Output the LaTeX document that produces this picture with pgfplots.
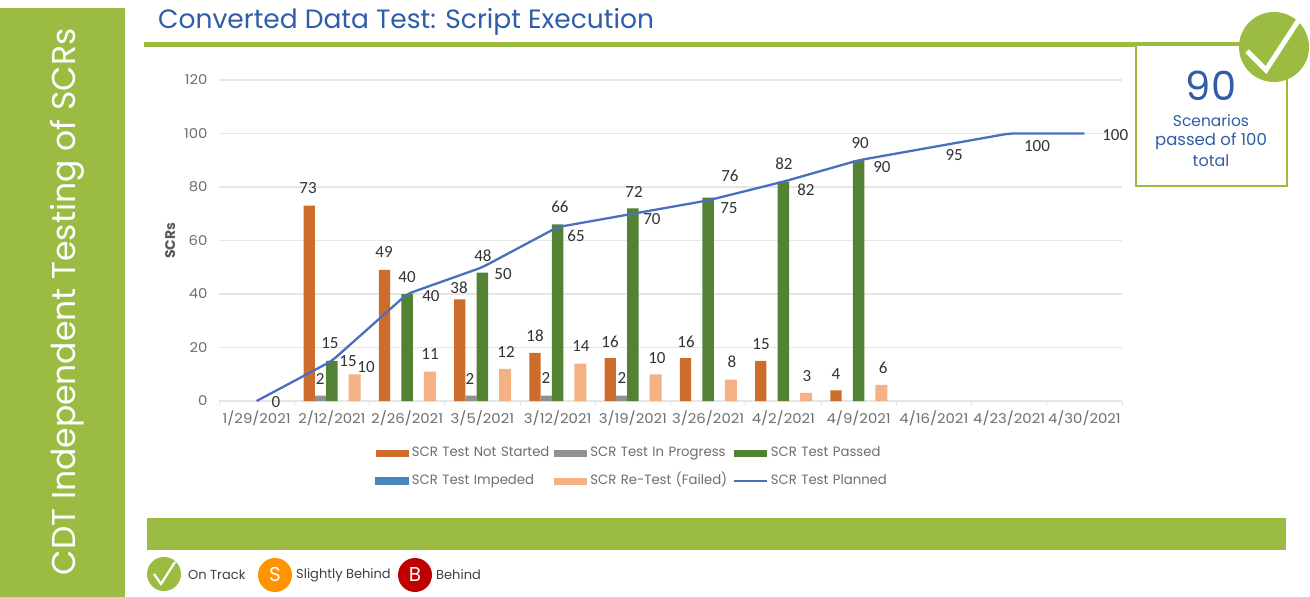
\documentclass[border=0pt]{standalone}
\usepackage{fontspec}
\usepackage{pgfplots}
\pgfplotsset{compat=1.18}
\setmainfont{Poppins}
\newfontfamily\cg[FakeStretch=0.98]{Poppins}
\newfontfamily\tk[FakeStretch=1.1]{Poppins}
\newfontfamily\pp{Poppins}
\newfontfamily\num{Carlito}
\definecolor{barO}{HTML}{CE6C2B}
\definecolor{barG}{HTML}{919191}
\definecolor{barV}{HTML}{548235}
\definecolor{barB}{HTML}{4A86BE}
\definecolor{barP}{HTML}{F4B183}
\definecolor{lineB}{HTML}{4A6FBE}
\definecolor{titleB}{HTML}{2F5DA8}
\definecolor{hdr}{HTML}{9BBB43}
\definecolor{grid}{HTML}{E6E6E6}
\definecolor{axt}{HTML}{6E6E6E}
\newcommand{\swatch}[1]{\fill[#1] (0pt,-3.5pt) rectangle (33pt,3.5pt);}
\begin{document}
\begin{tikzpicture}[x=1pt,y=-1pt]
\useasboundingbox (0,0) rectangle (1310,597);
\fill[white] (0,0) rectangle (1310,597);
% side band
\fill[hdr] (0,8) rectangle (125,597);
\node[rotate=90,text=white,inner sep=0] at (67,302) {\pp\fontsize{33}{36}\selectfont CDT Independent Testing of SCRs};
% title
\node[anchor=west,text=titleB,inner sep=0] at (158,22) {\pp\fontsize{26.5}{30}\selectfont Converted Data Test: Script Execution};
\fill[hdr] (144,42) rectangle (1290,47);
% banner
\fill[hdr] (147,518) rectangle (1286,550);

\begin{axis}[
  at={(219pt,-401pt)}, anchor=south west,
  scale only axis, width=903pt, height=321pt,
  clip=false,
  xmin=-0.5, xmax=11.5, ymin=0, ymax=120,
  axis x line=bottom, axis y line=left,
  axis line style={-},
  y axis line style={draw=none},
  x axis line style={draw=grid,line width=1.5pt},
  xtick={0,1,2,3,4,5,6,7,8,9,10,11},
  xticklabels={1/29/2021,2/12/2021,2/26/2021,3/5/2021,3/12/2021,3/19/2021,3/26/2021,4/2/2021,4/9/2021,4/16/2021,4/23/2021,4/30/2021},
  minor xtick={-0.5,0.5,1.5,2.5,3.5,4.5,5.5,6.5,7.5,8.5,9.5,10.5,11.5},
  major tick length=0pt,
  minor tick length=5pt,
  xtick align=outside,
  minor x tick style={draw=grid,line width=1pt},
  ytick={0,20,40,60,80,100,120},
  ymajorgrids, grid style={draw=grid,line width=1.5pt},
  /pgf/number format/assume math mode=true,
  tick label style={text=axt,font=\tk\fontsize{13.5}{15}\selectfont},
  x tick label style={yshift=-6pt},
  y tick label style={xshift=-8pt},
  every axis y label/.style={at={(axis description cs:-0.054,0.50)},rotate=90,anchor=center},
  ylabel={\pp\bfseries\fontsize{14}{16}\selectfont\textcolor{axt!80!black}{SCRs}},
  legend columns=3,
  legend cell align=left,
  legend style={draw=none,fill=none,at={(axis description cs:0.173,-0.1425)},anchor=north west,
    font=\cg\fontsize{13.5}{15}\selectfont\color{axt},
    row sep=14pt,inner sep=0pt,
    nodes={inner sep=0pt,text width=142.5pt,align=left,text height=10pt,text depth=3.5pt},
    /tikz/every odd column/.append style={column sep=3pt},
    /tikz/every even column/.append style={column sep=0pt},
  },
]
\addplot[ybar,bar width=11.3pt,bar shift=-22.7pt,fill=barO,draw=none,
  legend image code/.code={\swatch{barO}}] coordinates {(1,73)(2,49)(3,38)(4,18)(5,16)(6,16)(7,15)(8,4)};
\addlegendentry{SCR Test Not Started}
\addplot[ybar,bar width=11.3pt,bar shift=-11.35pt,fill=barG,draw=none,
  legend image code/.code={\swatch{barG}}] coordinates {(1,2)(3,2)(4,2)(5,2)};
\addlegendentry{SCR Test In Progress}
\addplot[ybar,bar width=11.3pt,bar shift=0pt,fill=barV,draw=none,
  legend image code/.code={\swatch{barV}}] coordinates {(1,15)(2,40)(3,48)(4,66)(5,72)(6,76)(7,82)(8,90)};
\addlegendentry{SCR Test Passed}
\addlegendimage{legend image code/.code={\swatch{barB}}}
\addlegendentry{SCR Test Impeded}
\addplot[ybar,bar width=12pt,bar shift=22.7pt,fill=barP,draw=none,
  legend image code/.code={\swatch{barP}}] coordinates {(1,10)(2,11)(3,12)(4,14)(5,10)(6,8)(7,3)(8,6)};
\addlegendentry{SCR Re-Test (Failed)}
\addplot[lineB,line width=2.3pt,rounded corners=6pt,
  legend image code/.code={\draw[lineB,line width=2pt] (0pt,0pt) -- (33pt,0pt);}] coordinates {(0,0)(1,15)(2,40)(3,50)(4,65)(5,70)(6,75)(7,82)(8,90)(9,95)(10,100)(11,100)};
\addlegendentry{SCR Test Planned}
\addplot[forget plot,draw=none,mark=none,point meta=explicit symbolic,
  nodes near coords,
  nodes near coords align={center},
  every node near coord/.append style={anchor=center,inner sep=0pt,text=black!80,font=\num\fontsize{17}{19}\selectfont}]
  table[x=x,y=y,meta=l,row sep=\\] {
x y l\\
0.258 -0.4 0\\
0.683 79.6 73\\
0.975 21.7 15\\
1.215 14.95 15\\
1.454 12.7 10\\
0.843 8.2 2\\
1.693 55.7 49\\
1.999 46.4 40\\
2.317 39.3 40\\
2.304 17.6 11\\
2.690 42.2 38\\
3.008 54.2 48\\
3.274 47.5 50\\
2.836 8.2 2\\
3.314 18.3 12\\
3.70 24.3 18\\
3.846 8.6 2\\
4.03 72.5 66\\
4.245 61.7 65\\
4.31 20.6 14\\
4.696 22.1 16\\
4.856 8.6 2\\
5.015 78.1 72\\
5.254 68.0 70\\
5.32 16.1 10\\
5.706 22.1 16\\
6.29 84.1 76\\
6.277 72.1 75\\
6.317 14.6 8\\
6.703 21.3 15\\
7.008 88.6 82\\
7.30 78.9 82\\
7.314 9.3 3\\
7.70 10.1 4\\
8.02 96.4 90\\
8.31 87.5 90\\
8.325 12.3 6\\
9.27 92.0 95\\
10.37 95.3 100\\
11.41 99.4 100\\
};
\end{axis}

% KPI box
\draw[hdr,line width=2.5pt,fill=white] (1136,45) rectangle (1287,186);
\node[text=titleB,inner sep=0] at (1211,86) {\pp\fontsize{40}{44}\selectfont 90};
\node[text=titleB,inner sep=0] at (1211,121) {\pp\fontsize{15.5}{18}\selectfont Scenarios};
\node[text=titleB,inner sep=0] at (1211,141) {\pp\fontsize{16.5}{18}\selectfont passed of 100};
\node[text=titleB,inner sep=0] at (1211,161) {\pp\fontsize{16}{18}\selectfont total};
\begin{scope}
\fill[hdr] (1274,47) circle (35);
\clip (1274,47) circle (35);
\draw[white,line width=5pt] (1247,51) -- (1266,70) -- (1300,18);
\end{scope}
% status key
\fill[hdr] (164,574) circle (17);
\draw[white,line width=2.2pt] (154,574) -- (161,584) -- (175,562);
\node[anchor=west,inner sep=0,text=black!75] at (188,575) {\pp\fontsize{13}{15}\selectfont On Track};
\fill[orange!85!yellow] (275,575) circle (17);
\node[text=white,inner sep=0] at (275,575) {\pp\fontsize{20}{22}\selectfont S};
\node[anchor=west,inner sep=0,text=black!75] at (296,575) {\pp\fontsize{13}{15}\selectfont Slightly Behind};
\fill[red!75!black] (415,575) circle (17);
\node[text=white,inner sep=0] at (415,575) {\pp\fontsize{20}{22}\selectfont B};
\node[anchor=west,inner sep=0,text=black!75] at (436,575) {\pp\fontsize{13}{15}\selectfont Behind};
\end{tikzpicture}
\end{document}
